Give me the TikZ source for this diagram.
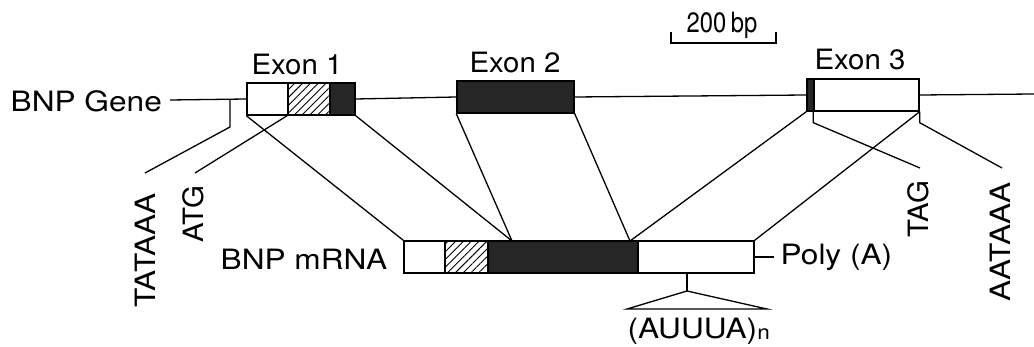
\documentclass[tikz,border=0pt]{standalone}
\usepackage{fontspec}
\setmainfont{TeX Gyre Heros}
\newfontfamily\widefont[FakeStretch=1.13]{TeX Gyre Heros}
\newfontfamily\midfont[FakeStretch=1.05]{TeX Gyre Heros}
\newfontfamily\narrowfont[FakeStretch=0.85]{TeX Gyre Heros}
\usetikzlibrary{patterns.meta}
\begin{document}
\begin{tikzpicture}[x=1pt,y=-1pt,line width=1.3pt,
  seg/.style={draw,inner sep=0pt,minimum height=32pt,line width=1.4pt},
  whiteseg/.style={seg,fill=white},
  hatchseg/.style={seg,pattern={Lines[angle=45,distance=5.5pt,line width=0.9pt]}},
  darkseg/.style={seg,fill=black!85},
  lbl/.style={font=\widefont\fontsize{28}{30}\selectfont,inner sep=0pt},
  mlbl/.style={font=\midfont\fontsize{28}{30}\selectfont,inner sep=0pt},
  small/.style={font=\narrowfont\fontsize{28}{30}\selectfont,inner sep=0pt}]
\useasboundingbox (0,0) rectangle (1034,347);
% gene exons
\node[whiteseg,minimum width=41pt] (e1a) at (267.5,99) {};
\node[hatchseg,minimum width=42pt] (e1b) at (309,99) {};
\node[darkseg,minimum width=25pt] (e1c) at (342.5,99) {};
\node[darkseg,minimum width=117pt] (ex2) at (515.5,97) {};
\node[darkseg,minimum width=7pt] (e3a) at (810.5,95) {};
\node[whiteseg,minimum width=105pt] (e3b) at (866.5,95) {};
% mRNA
\node[whiteseg,minimum width=41pt] (m1) at (424.5,257) {};
\node[hatchseg,minimum width=43pt] (m2) at (466.5,257) {};
\node[darkseg,minimum width=150pt] (m3) at (563,257) {};
\node[whiteseg,minimum width=116pt] (m4) at (696,257) {};
% gene line
\coordinate (geneL) at (170,100);
\coordinate (geneR) at (1034,94);
\draw (geneL) -- (e1a.west);
\draw (e1c.east) -- (ex2.west);
\draw (ex2.east) -- (e3a.west);
\draw (e3b.east) -- (geneR);
% splicing connectors
\coordinate (j1) at (512,241);
\coordinate (j2) at (630,241);
\draw (e1a.south west) -- (m1.north west);
\draw (e1c.south east) -- (j1);
\draw (ex2.south west) -- (j1);
\draw (ex2.south east) -- (j2);
\draw (e3a.south west) -- (j2);
\draw (e3b.south east) -- (m4.north east);
% pointers
\coordinate (tataT) at (230,100);
\coordinate (tataM) at (230,127);
\coordinate (tataE) at (145,173);
\coordinate (atgE) at (195,173);
\coordinate (tagE) at (920,168);
\coordinate (aatE) at (1002,168);
\draw (tataT) -- (tataM) -- (tataE);
\draw (e1b.south west) -- (atgE);
\draw (e3b.south west) -- ++(0,11) -- (tagE);
\draw (e3b.south east) -- ++(0,11) -- (aatE);
% poly A
\coordinate (polyE) at (774,257);
\draw (m4.east) -- (polyE);
% AUUUA
\coordinate (au0) at (687,273);
\coordinate (au1) at (687,291);
\coordinate (au2) at (627,309);
\coordinate (au3) at (767,309);
\draw (au0) -- (au1);
\draw (au1) -- (au2) -- (au3) -- cycle;
% scale bar
\coordinate (sb1) at (671,32);
\coordinate (sb2) at (671,43);
\coordinate (sb3) at (776,43);
\coordinate (sb4) at (776,32);
\draw (sb1) -- (sb2) -- (sb3) -- (sb4);
% labels
\node[lbl,anchor=base west] (tGene) at (10,112) {BNP Gene};
\node[lbl,anchor=base east] (tmRNA) at (388,270) {BNP mRNA};
\node[mlbl,anchor=base] (tE1) at (297,75) {Exon 1};
\node[mlbl,anchor=base] (tE2) at (515,73) {Exon 2};
\node[mlbl,anchor=base] (tE3) at (860,70) {Exon 3};
\node[lbl,anchor=base west] (tPoly) at (780,265) {Poly (A)};
\node[lbl,anchor=base west] (tAU) at (627,339) {(AUUUA)\raisebox{-1pt}{\fontsize{20}{20}\selectfont n}};
\node[small,anchor=base] (tSB) at (722,33) {200\,bp};
\node[lbl,rotate=90,anchor=base west] (tTATA) at (155,308) {TATAAA};
\node[mlbl,rotate=90,anchor=base west] (tATG) at (203,243) {ATG};
\node[mlbl,rotate=90,anchor=base west] (tTAG) at (928,238) {TAG};
\node[lbl,rotate=90,anchor=base west] (tAAT) at (1010,302) {AATAAA};
\end{tikzpicture}
\end{document}
